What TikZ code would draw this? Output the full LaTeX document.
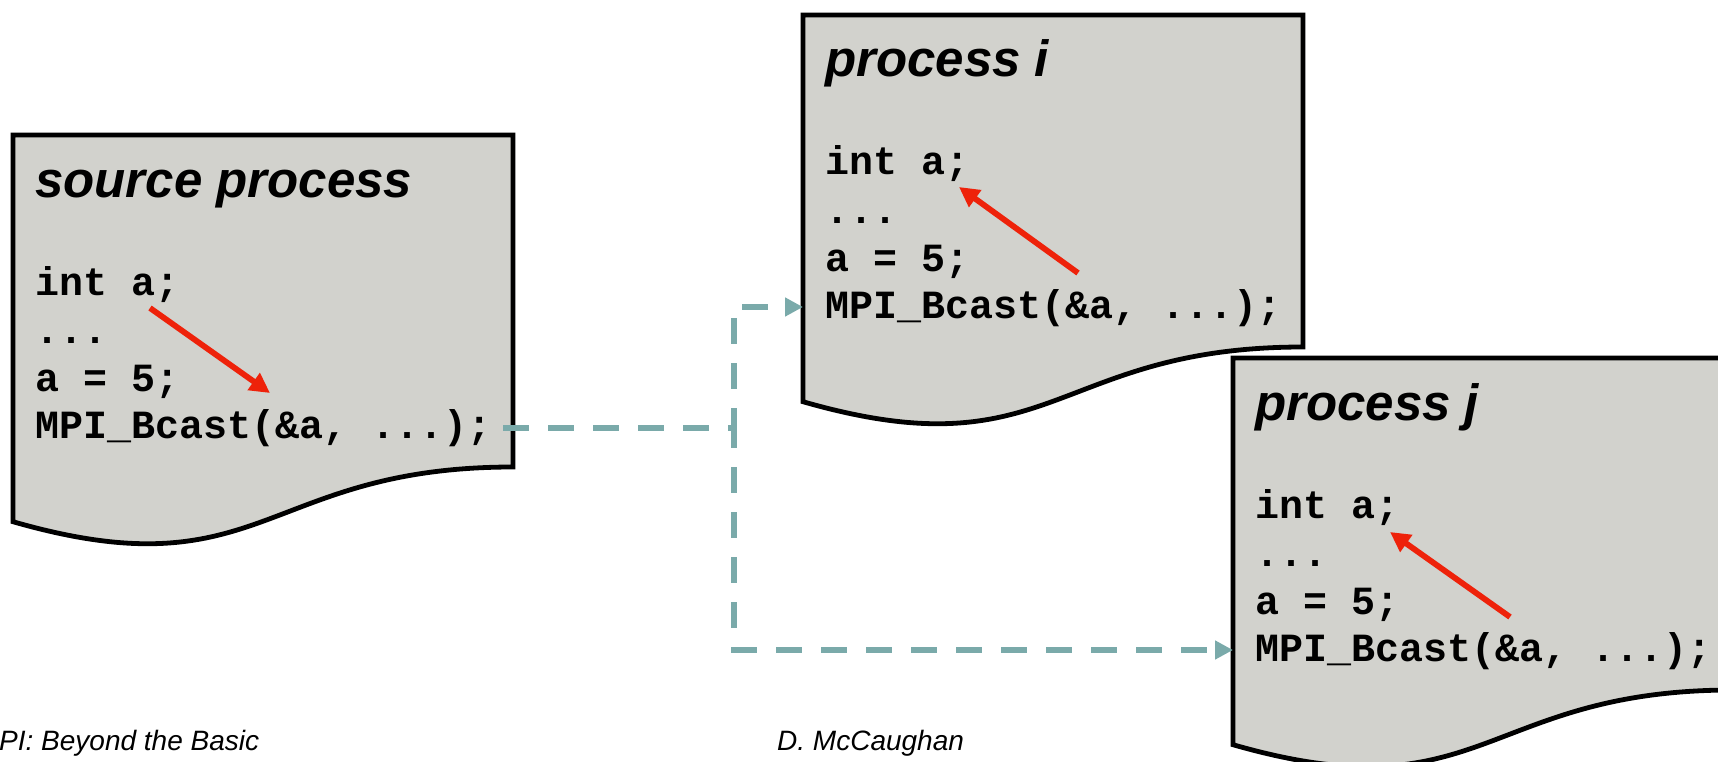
\documentclass[tikz,border=0pt]{standalone}
\usepackage{fontspec}
\setmainfont{Liberation Sans}
\newfontfamily\codefont{Liberation Mono}
\usetikzlibrary{arrows.meta}

\definecolor{docfill}{RGB}{210,210,205}
\definecolor{linkteal}{RGB}{122,170,170}
\definecolor{pointred}{RGB}{238,34,10}

\tikzset{
  docbox/.style={draw=none, inner sep=0pt, outer sep=0pt,
    minimum width=500pt, minimum height=332pt, anchor=north west},
  docshape/.style={draw=black, line width=4.8pt, fill=docfill, line join=miter},
  titletext/.style={inner sep=0pt, anchor=base west,
    font=\fontsize{51}{60}\selectfont\bfseries\itshape},
  codetext/.style={inner sep=0pt, anchor=base west,
    font=\fontsize{40}{48}\selectfont\codefont\bfseries},
  footer/.style={inner sep=0pt, anchor=base west,
    font=\fontsize{28}{32}\selectfont\itshape},
  pointer/.style={draw=pointred, line width=5.8pt,
    -{Triangle[length=20pt,width=20pt]}},
  link/.style={draw=linkteal, line width=6.5pt,
    dash pattern=on 25.5pt off 19.5pt,
    -{Triangle[length=18pt,width=18pt]}},
}

% page outline with a wavy lower edge, hung on a box node
\newcommand\drawdoc[1]{%
  \draw[docshape] (#1.north west) -- (#1.north east) -- (#1.south east)
    .. controls (#1.south) and ([yshift=-126.5pt]#1.south)
    .. ([yshift=-54.7pt]#1.south west) -- cycle;}

% heading and the four code lines of one process
\newcommand\doclines[2]{%
  \node[titletext] (#1-title) at ([shift={(22,62)}]#1.north west) {#2};
  \node[codetext] (#1-decl) at ([shift={(22,160)}]#1.north west) {int a;};
  \node[codetext] (#1-dots) at ([shift={(22,208)}]#1.north west) {...};
  \node[codetext] (#1-set) at ([shift={(22,256)}]#1.north west) {a = 5;};
  \node[codetext] (#1-call) at ([shift={(22,303)}]#1.north west) {MPI\_Bcast(\&a, ...);};}

\begin{document}
\frenchspacing
\begin{tikzpicture}[x=1pt, y=-1pt]
\useasboundingbox (0,0) rectangle (1718,762);

% processes
\node[docbox] (src) at (13,135) {};
\node[docbox] (pi) at (803,15) {};
\node[docbox] (pj) at (1233,358) {};

\drawdoc{src}
\drawdoc{pi}
\drawdoc{pj}

\doclines{src}{source process}
\doclines{pi}{process i}
\doclines{pj}{process j}

% where the value of a goes
\coordinate (src-p1) at ([shift={(137,173)}]src.north west);
\coordinate (src-p2) at ([shift={(257,258)}]src.north west);
\coordinate (pi-p1) at ([shift={(275,258)}]pi.north west);
\coordinate (pi-p2) at ([shift={(156,172)}]pi.north west);
\coordinate (pj-p1) at ([shift={(277,259)}]pj.north west);
\coordinate (pj-p2) at ([shift={(157,174)}]pj.north west);
\draw[pointer] (src-p1) -- (src-p2);
\draw[pointer] (pi-p1) -- (pi-p2);
\draw[pointer] (pj-p1) -- (pj-p2);

% broadcast links
\coordinate (src-out) at ([shift={(12,-10)}]src-call.base east);
\coordinate (fork) at (734,0);
\path (pi.west |- pi-call.base) ++(0,-11) coordinate (pi-in);
\path (pj.west |- pj-call.base) ++(0,-11) coordinate (pj-in);
\draw[link] (src-out) -| (fork |- pi-in) -- (pi-in);
\draw[link] (src-out) -| (fork |- pj-in) -- (pj-in);

% footer
\node[footer] (foot-l) at (-1,750) {PI: Beyond the Basic};
\node[footer] (foot-r) at (777,750) {D. McCaughan};
\end{tikzpicture}
\end{document}
